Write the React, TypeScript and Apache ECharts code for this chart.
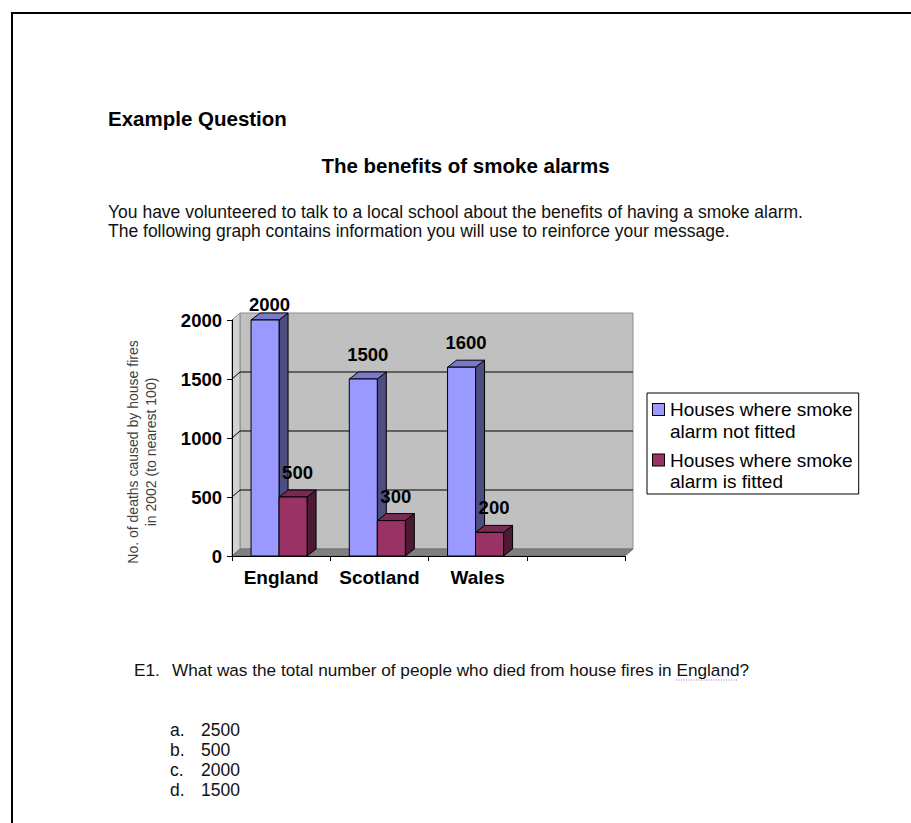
import React, { useEffect, useRef } from "react";
import * as echarts from "echarts";

const categories = ["England", "Scotland", "Wales", ""];
const notFitted = [2000, 1500, 1600];
const fitted = [500, 300, 200];
const seriesNames = ["Houses where smoke alarm not fitted", "Houses where smoke alarm is fitted"];
const legendLines = [
  ["Houses where smoke", "alarm not fitted"],
  ["Houses where smoke", "alarm is fitted"],
];
const yTicks = [0, 500, 1000, 1500, 2000];
const yAxisName = ["No. of deaths caused by house fires", "in 2002 (to nearest 100)"];
const introLines = [
  "You have volunteered to talk to a local school about the benefits of having a smoke alarm.",
  "The following graph contains information you will use to reinforce your message.",
];
const answerLetters = ["a.", "b.", "c.", "d."];
const answerValues = ["2500", "500", "2000", "1500"];

const FONT = '"Liberation Sans", Arial, sans-serif';
const palette = [
  { front: "#9999ff", side: "#4d4d80", top: "#7a7acc" },
  { front: "#993366", side: "#4d1a33", top: "#7a2952" },
];
const WDX = 8, WDY = -7;
const BDX = 9, BDY = -7;

function barSeries(s: number, values: number[]) {
  const p = palette[s];
  return {
    type: "custom",
    name: seriesNames[s],
    z: 3,
    itemStyle: { color: p.front, borderColor: "#000", borderWidth: 1 },
    encode: { x: 0, y: 1 },
    data: values.map((v, i) => [i, v]),
    renderItem: (params: any, api: any) => {
      const i = api.value(0);
      const v = api.value(1);
      const top = api.coord([i, v]);
      const base = api.coord([i, 0]);
      const bw = api.size([1, 0])[0];
      const cx = top[0];
      const yt = top[1];
      const yb = base[1];
      const xl = cx + bw * (s === 0 ? -0.306 : -0.021);
      const xr = xl + bw * 0.285;
      const cs = params.coordSys;
      const labelBottom = Math.max(yt + BDY - 8, cs.y - 6);
      return {
        type: "group",
        children: [
          {
            type: "polygon",
            shape: { points: [[xr, yt], [xr + BDX, yt + BDY], [xr + BDX, yb + BDY], [xr, yb]] },
            style: { fill: p.side, stroke: "#000", lineWidth: 1 },
          },
          {
            type: "polygon",
            shape: { points: [[xl, yt], [xl + BDX, yt + BDY], [xr + BDX, yt + BDY], [xr, yt]] },
            style: { fill: p.top, stroke: "#000", lineWidth: 1 },
          },
          {
            type: "rect",
            shape: { x: xl, y: yt, width: xr - xl, height: yb - yt },
            style: { fill: p.front, stroke: "#000", lineWidth: 1 },
          },
          {
            type: "text",
            z2: 10,
            style: {
              text: String(v),
              x: (xl + xr) / 2 + BDX / 2,
              y: labelBottom,
              align: "center",
              verticalAlign: "bottom",
              fontFamily: FONT,
              fontWeight: "bold",
              fontSize: 18.5,
              fill: "#000",
            },
          },
        ],
      };
    },
  };
}

const wallSeries = {
  type: "custom",
  name: "walls",
  silent: true,
  z: 1,
  data: [[0, 0]],
  encode: { x: 0, y: 1 },
  renderItem: (params: any, api: any) => {
    const cs = params.coordSys;
    const x0 = cs.x;
    const x1 = cs.x + cs.width;
    const yt = cs.y;
    const yb = cs.y + cs.height;
    const children: any[] = [
      {
        type: "polygon",
        shape: { points: [[x0 + WDX, yt + WDY], [x1 + WDX, yt + WDY], [x1 + WDX, yb + WDY], [x0 + WDX, yb + WDY]] },
        style: { fill: "#c0c0c0", stroke: "#8c8c8c", lineWidth: 1 },
      },
      {
        type: "polygon",
        shape: { points: [[x0, yt], [x0 + WDX, yt + WDY], [x0 + WDX, yb + WDY], [x0, yb]] },
        style: { fill: "#d2d2d2", stroke: "#8c8c8c", lineWidth: 1 },
      },
    ];
    yTicks.forEach((t) => {
      if (t === yTicks[0] || t === yTicks[yTicks.length - 1]) return;
      const y = api.coord([0, t])[1];
      children.push({
        type: "polyline",
        shape: { points: [[x0, y], [x0 + WDX, y + WDY], [x1 + WDX, y + WDY]] },
        style: { stroke: "#000", lineWidth: 1, fill: "none" },
      });
    });
    children.push({
      type: "polygon",
      shape: { points: [[x0, yb], [x1, yb], [x1 + WDX, yb + WDY], [x0 + WDX, yb + WDY]] },
      style: { fill: "#808080", stroke: "#6e6e6e", lineWidth: 1 },
    });
    return { type: "group", children };
  },
};

function richFor(color: string) {
  return { width: 11, height: 11, backgroundColor: color, borderColor: "#000", borderWidth: 1, lineHeight: 21.5 };
}

export default function App() {
  const ref = useRef<HTMLDivElement>(null);
  useEffect(() => {
    document.body.style.margin = "0";
    const chart = echarts.init(ref.current!, undefined, { renderer: "svg" });
    const body = { fontFamily: FONT, fontSize: 17.5, fill: "#111", verticalAlign: "middle" };
    const question = { ...body, fontSize: 17.2 };
    const graphics: any[] = [
      { type: "line", shape: { x1: 11, y1: 13, x2: 911, y2: 13 }, style: { stroke: "#000", lineWidth: 2 } },
      { type: "line", shape: { x1: 12, y1: 12, x2: 12, y2: 823 }, style: { stroke: "#000", lineWidth: 2 } },
      {
        type: "text",
        style: { text: "Example Question", x: 108, y: 118, verticalAlign: "middle", fontFamily: FONT, fontWeight: "bold", fontSize: 20.5, fill: "#000" },
      },
      {
        type: "text",
        style: { text: "The benefits of smoke alarms", x: 465.5, y: 165, align: "center", verticalAlign: "middle", fontFamily: FONT, fontWeight: "bold", fontSize: 20.5, fill: "#000" },
      },
      ...introLines.map((t, k) => ({
        type: "text",
        style: { ...body, text: t, x: 108, y: 212 + k * 19 },
      })),
      { type: "text", style: { ...question, text: "E1.", x: 134, y: 670 } },
      {
        type: "text",
        style: { ...question, text: "What was the total number of people who died from house fires in England?", x: 172, y: 670 },
      },
      {
        type: "line",
        shape: { x1: 676, y1: 680, x2: 738, y2: 680 },
        style: { stroke: "#a46cd0", lineWidth: 1, lineDash: [1, 1.5] },
      },
      ...answerLetters.map((t, k) => ({
        type: "text",
        style: { ...body, text: t, x: 170, y: 730 + k * 20 },
      })),
      ...answerValues.map((t, k) => ({
        type: "text",
        style: { ...body, text: t, x: 201, y: 730 + k * 20 },
      })),
    ];
    chart.setOption({
      animation: false,
      backgroundColor: "#fff",
      grid: { left: 232, top: 320, width: 393, height: 236, containLabel: false },
      xAxis: {
        type: "category",
        data: categories,
        boundaryGap: true,
        z: 10,
        axisLine: { show: true, lineStyle: { color: "#000", width: 1 } },
        axisTick: { show: true, length: 5, lineStyle: { color: "#000" } },
        axisLabel: { interval: 0, fontFamily: FONT, fontWeight: "bold", fontSize: 19, color: "#000", margin: 12 },
        splitLine: { show: false },
      },
      yAxis: {
        type: "value",
        min: 0,
        max: 2000,
        interval: 500,
        z: 10,
        axisLine: { show: true, lineStyle: { color: "#000", width: 1 } },
        axisTick: { show: true, length: 5, lineStyle: { color: "#000" } },
        axisLabel: { formatter: (v: number) => String(v), fontFamily: FONT, fontWeight: "bold", fontSize: 18.5, color: "#000", margin: 10 },
        splitLine: { show: false },
        name: yAxisName.join("\n"),
        nameLocation: "middle",
        nameGap: 72,
        nameTextStyle: { fontFamily: FONT, fontSize: 14, color: "#404040", lineHeight: 18, padding: [0, 28, 0, 0] },
      },
      legend: {
        data: seriesNames,
        orient: "vertical",
        left: 647,
        top: 393,
        icon: "none",
        itemWidth: 1,
        itemHeight: 11,
        itemGap: 10,
        padding: [7, 6, 3, 0],
        backgroundColor: "#fff",
        borderColor: "#000",
        borderWidth: 1,
        borderRadius: 0,
        selectedMode: false,
        formatter: (name: string) => {
          const k = seriesNames.indexOf(name);
          const sq = k === 0 ? "a" : "b";
          return `{${sq}| }{g| }{t|${legendLines[k][0]}}\n{s| }{t|${legendLines[k][1]}}`;
        },
        textStyle: {
          fontFamily: FONT,
          fontSize: 19,
          color: "#000",
          rich: {
            a: richFor(palette[0].front),
            b: richFor(palette[1].front),
            g: { width: 6, lineHeight: 21.5 },
            s: { width: 17, lineHeight: 21.5 },
            t: { fontFamily: FONT, fontSize: 19, color: "#000", lineHeight: 21.5 },
          },
        },
      },
      graphic: graphics,
      series: [wallSeries, barSeries(0, notFitted), barSeries(1, fitted)],
    });
    return () => chart.dispose();
  }, []);
  return <div ref={ref} style={{ width: 911, height: 823 }} />;
}
